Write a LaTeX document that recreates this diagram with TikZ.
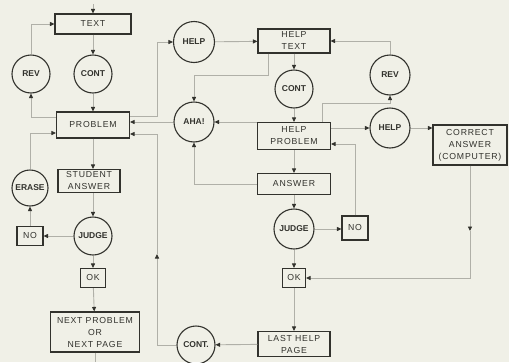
\documentclass[tikz,border=0pt]{standalone}
\usepackage{fontspec}
\setmainfont{Liberation Sans}
\usepackage{xcolor}
\usepackage{tikz}
\usetikzlibrary{arrows.meta}
\definecolor{paper}{RGB}{240,240,231}
\definecolor{ink}{RGB}{50,50,45}
\definecolor{faded}{RGB}{176,176,168}

\begin{document}
\begin{tikzpicture}[x=1pt, y=-1pt,
    box/.style={draw=ink, line width=1.1pt, rectangle, inner sep=0pt, text=ink, align=center,
      font=\fontsize{8.7}{12}\selectfont\addfontfeature{LetterSpace=9}},
    ring/.style={draw=ink, line width=1.1pt, circle, inner sep=0pt, minimum size=38pt, text=ink,
      font=\fontsize{8.5}{10}\selectfont\bfseries},
    flow/.style={draw=faded, line width=0.9pt, -{Triangle[length=4.5pt, width=4pt, color=ink]}},
    plain/.style={draw=faded, line width=0.9pt}]

    \path[fill=paper, use as bounding box] (0,0) rectangle (509,362);

    % main line (left)
    \node[box, minimum width=76pt, minimum height=20pt] (textbox) at (93,24) {TEXT};
    \node[ring] (rev) at (31,74) {REV};
    \node[ring] (cont) at (93,74) {CONT};
    \node[box, minimum width=73pt, minimum height=26pt] (problem) at (93,125) {PROBLEM};
    \node[box, minimum width=62pt, minimum height=23pt] (student) at (89,181) {STUDENT\\ANSWER};
    \node[ring, minimum size=36pt] (erase) at (30,188) {ERASE};
    \node[box, minimum width=26pt, minimum height=19pt] (no) at (30,236) {NO};
    \node[ring] (judge) at (93,236) {JUDGE};
    \node[box, minimum width=25pt, minimum height=19pt] (ok) at (93,278) {OK};
    \node[box, minimum width=89pt, minimum height=40pt] (next) at (95,332) {NEXT PROBLEM\\OR\\NEXT PAGE};

    % help line (middle)
    \node[ring, minimum size=41pt] (help) at (194,42) {HELP};
    \node[box, minimum width=72pt, minimum height=24pt] (helptext) at (294,41) {HELP\\TEXT};
    \node[ring] (contb) at (294,89) {CONT};
    \node[ring, minimum size=40pt] (aha) at (194,122) {AHA!};
    \node[box, minimum width=73pt, minimum height=27pt] (helpproblem) at (294,136) {HELP\\PROBLEM};
    \node[box, minimum width=73pt, minimum height=21pt] (answer) at (294,184) {ANSWER};
    \node[ring, minimum size=40pt] (judgeb) at (294,229) {JUDGE};
    \node[box, minimum width=26pt, minimum height=24pt] (nob) at (355,228) {NO};
    \node[box, minimum width=23pt, minimum height=19pt] (okb) at (294,278) {OK};
    \node[box, minimum width=72pt, minimum height=25pt] (lastpage) at (294,344) {LAST HELP\\PAGE};
    \node[ring] (contc) at (196,345) {CONT.};

    % right side
    \node[ring, minimum size=40pt] (revb) at (390,75) {REV};
    \node[ring, minimum size=40pt] (helpb) at (390,128) {HELP};
    \node[box, minimum width=74pt, minimum height=40pt] (correct) at (470,145) {CORRECT\\ANSWER\\(COMPUTER)};

    \coordinate (in) at (93,4);
    \coordinate (out) at (95,362);
    \coordinate (bus) at (157,254);
    \coordinate (down) at (470,231);

    % connectors, left
    \draw[flow] (in) -- (textbox);
    \draw[flow] (rev.north) |- (textbox.west);
    \draw[flow] (textbox) -- (cont);
    \draw[flow] (cont) -- (problem);
    \draw[flow] ([yshift=8pt]problem.west) -| (rev.south);
    \draw[flow] (erase.north) |- ([yshift=-8pt]problem.west);
    \draw[flow] (problem.south) -- (problem.south |- student.north);
    \draw[flow] (judge.north |- student.south) -- (judge.north);
    \draw[flow] (judge) -- (no);
    \draw[flow] (no) -- (erase);
    \draw[flow] (judge) -- (ok);
    \draw[flow] (ok) -- (next);
    \draw[plain] (next) -- (out);

    % connectors, middle
    \draw[flow] ([yshift=9pt]problem.east) -- ++(27,0) |- (help.west);
    \draw[flow] (aha.west) -- (aha.west -| problem.east);
    \draw[flow] (contc.west) -| (bus);
    \draw[flow] (bus) |- ([yshift=-9pt]problem.east);
    \draw[flow] (help) -- (helptext);
    \draw[flow] (revb.north) |- (helptext.east);
    \draw[flow] (helptext) -- (contb);
    \draw[flow] ([xshift=-26pt]helptext.south) -- ++(0,22) -| (aha.north);
    \draw[flow] (contb) -- (helpproblem);
    \draw[flow] (aha.east -| helpproblem.west) -- (aha.east);
    \draw[flow] ([xshift=28pt]helpproblem.north) -- ++(0,-19) -| (revb.south);
    \draw[flow] (helpb.west -| helpproblem.east) -- (helpb.west);
    \draw[flow] (helpb.east) -- (helpb.east -| correct.west);
    \draw[flow] (nob.north) |- ([yshift=-8pt]helpproblem.east);
    \draw[flow] (helpproblem) -- (answer);
    \draw[flow] (answer.west) -| (aha.south);
    \draw[flow] (answer) -- (judgeb);
    \draw[flow] (judgeb) -- (nob.west |- judgeb);
    \draw[flow] (judgeb) -- (okb);
    \draw[flow] (correct.south) -- (down);
    \draw[flow] (down) |- (okb.east);
    \draw[flow] (okb) -- (lastpage);
    \draw[flow] (lastpage) -- (contc);
\end{tikzpicture}
\end{document}
